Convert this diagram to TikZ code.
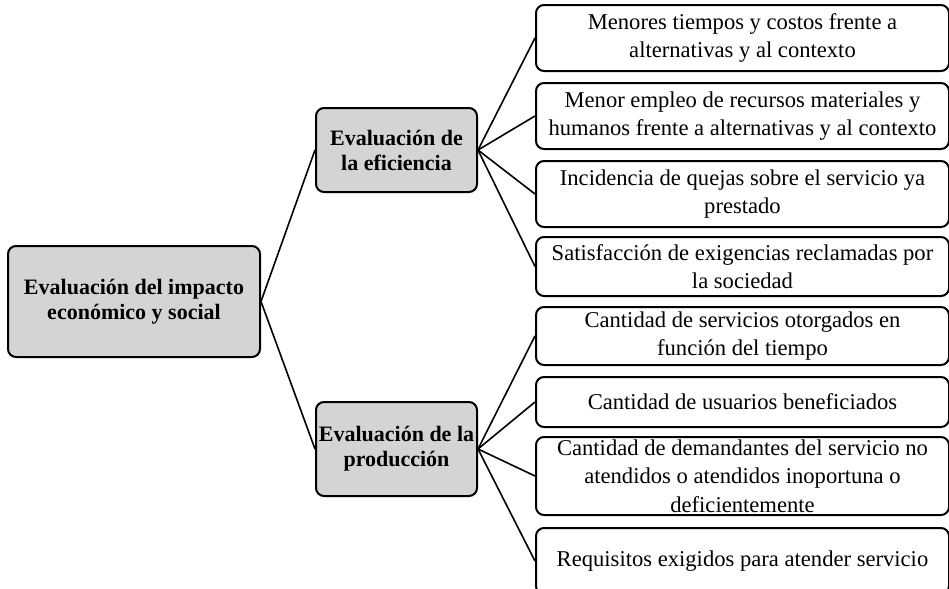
\documentclass[tikz,border=0pt]{standalone}
\usepackage{fontspec}
\setmainfont{Liberation Serif}
\usepackage{tikz}
\usetikzlibrary{positioning}

\definecolor{grisnodo}{RGB}{211,212,214}

\begin{document}
\begin{tikzpicture}[x=0.5pt,y=-0.5pt,
  caja/.style={draw, line width=1pt, rounded corners=4pt, align=center, inner sep=0pt},
  principal/.style={caja, fill=grisnodo, font=\fontsize{11}{12.5}\selectfont\bfseries},
  hoja/.style={caja, anchor=west, minimum width=206.5pt, font=\fontsize{11.3}{14.2}\selectfont},
  rama/.style={line width=0.8pt}]
\useasboundingbox (0,0) rectangle (949,589);
\clip (0,0) rectangle (949,589);
% nodos principales
\node[principal, minimum width=126pt, minimum height=55.5pt] (raiz) at (134,301.5) {Evaluación del impacto\\económico y social};
\node[principal, minimum width=80.5pt, minimum height=42pt] (efic) at (396.5,150) {Evaluación de\\la eficiencia};
\node[principal, minimum width=80.5pt, minimum height=47pt] (prod) at (396.5,449) {Evaluación de la\\producción};
% hojas de la eficiencia
\node[hoja, minimum height=33pt] (e1) at (535,38) {Menores tiempos y costos frente a\\alternativas y al contexto};
\node[hoja, minimum height=33pt] (e2) at (535,116) {Menor empleo de recursos materiales y\\humanos frente a alternativas y al contexto};
\node[hoja, minimum height=33pt] (e3) at (535,194) {Incidencia de quejas sobre el servicio ya\\prestado};
\node[hoja, minimum height=29.5pt] (e4) at (535,266.5) {Satisfacción de exigencias reclamadas por\\la sociedad};
% hojas de la produccion
\node[hoja, minimum height=29pt] (p1) at (535,336) {Cantidad de servicios otorgados en\\función del tiempo};
\node[hoja, minimum height=25pt] (p2) at (535,402) {Cantidad de usuarios beneficiados};
\node[hoja, minimum height=39pt] (p3) at (535,476) {Cantidad de demandantes del servicio no\\atendidos o atendidos inoportuna o\\deficientemente};
\node[hoja, minimum height=33pt] (p4) at (535,561) {Requisitos exigidos para atender servicio};
% conectores
\draw[rama] (raiz.east) -- (efic.west);
\draw[rama] (raiz.east) -- (prod.west);
\foreach \h in {e1,e2,e3,e4}
  \draw[rama] (efic.east) -- (\h.west);
\foreach \h in {p1,p2,p3,p4}
  \draw[rama] (prod.east) -- (\h.west);
\end{tikzpicture}
\end{document}
